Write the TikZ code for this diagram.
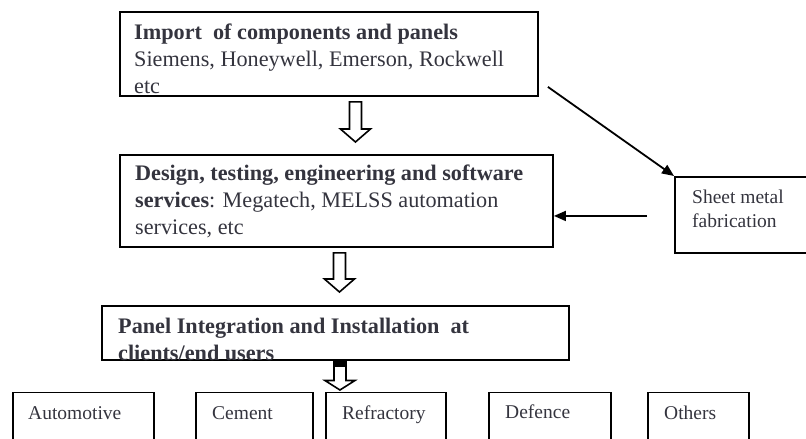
\documentclass[tikz,border=0pt]{standalone}
\usepackage{fontspec}
\setmainfont{Liberation Serif}
\usepackage{xcolor}
\usetikzlibrary{arrows.meta,positioning,calc}

\definecolor{inkgray}{RGB}{52,52,62}

\newcommand{\hollowdown}[3]{%
  \draw[hollow] let \p1=#1, \p2=#2 in
    (\x1-6pt,\y1) -- (\x1+6pt,\y1) -- (\x1+6pt,\y2+#3) -- (\x1+15pt,\y2+#3)
    -- (\x1,\y2) -- (\x1-15pt,\y2+#3) -- (\x1-6pt,\y2+#3) -- cycle;}

\begin{document}
\begin{tikzpicture}[
    x=1pt, y=-1pt,
    box/.style={
        draw,
        line width=1.9pt,
        inner sep=0pt,
        anchor=north west
    },
    txt/.style={inner sep=0pt, anchor=north west, align=left, text=inkgray,
        font=\fontsize{22.2}{27}\selectfont},
    small/.style={inner sep=0pt, anchor=base west, text=inkgray,
        font=\fontsize{19.5}{24}\selectfont},
    hollow/.style={draw, line width=1.6pt, fill=white},
    arrow/.style={-{Triangle[length=12pt,width=10pt]}, line width=1.8pt}
]
\clip (0,0) rectangle (806,439);

\node[box, minimum width=418pt, minimum height=84pt] (imp) at (119,11) {};
\node[box, minimum width=433pt, minimum height=92pt] (design) at (119,154) {};
\node[box, minimum width=467pt, minimum height=54pt] (integ) at (101,305) {};
\node[box, minimum width=160pt, minimum height=76pt] (sheet) at (674,176) {};

\node[box, minimum width=141pt, minimum height=70pt] (auto) at (12,391.5) {};
\node[box, minimum width=117pt, minimum height=70pt] (cement) at (195,391.5) {};
\node[box, minimum width=120pt, minimum height=70pt] (refr) at (325,391.5) {};
\node[box, minimum width=122pt, minimum height=70pt] (def) at (488,391.5) {};
\node[box, minimum width=101pt, minimum height=70pt] (others) at (647,391.5) {};

\node[txt] (impt) at (134,24) {\textbf{Import\ \ of components and panels}\\
    Siemens, Honeywell, Emerson, Rockwell\\etc};
\node[txt] (designt) at (135,165) {\textbf{Design, testing, engineering and software}\\
    \textbf{services}: Megatech, MELSS automation\\services, etc};
\begin{scope}
    \clip (integ.north west) rectangle (integ.south east);
    \node[txt] (integt) at (118,318) {\textbf{Panel Integration and Installation\ \ at}\\
        \textbf{clients/end users}};
\end{scope}
\node[small, anchor=north west, align=left] (sheett) at (692,190) {Sheet metal\\fabrication};

\node[small] (autot) at (28,419) {Automotive};
\node[small] (cementt) at (212,419) {Cement};
\node[small] (refrt) at (342,419) {Refractory};
\node[small] (deft) at (505,418) {Defence};
\node[small] (otherst) at (664,419) {Others};

\hollowdown{($(imp.south)+(26.5,5)$)}{($(design.north)+(0,-12)$)}{13pt}
\hollowdown{($(design.south)+(3,5)$)}{($(integ.north)+(0,-13)$)}{13pt}
\hollowdown{($(integ.south)+(4.5,0)$)}{($(refr.north)+(0,-1.5)$)}{9.5pt}
\fill ($(integ.south)+(-1.5,0)$) rectangle ($(integ.south)+(10.5,6)$);

\coordinate (diag) at ($(imp.south east)+(9,-10)$);
\coordinate (hsrc) at ($(sheet.west)+(-27,1)$);
\draw[arrow] (diag) -- (sheet.north west);
\draw[arrow] (hsrc) -- (hsrc -| design.east);
\end{tikzpicture}
\end{document}
